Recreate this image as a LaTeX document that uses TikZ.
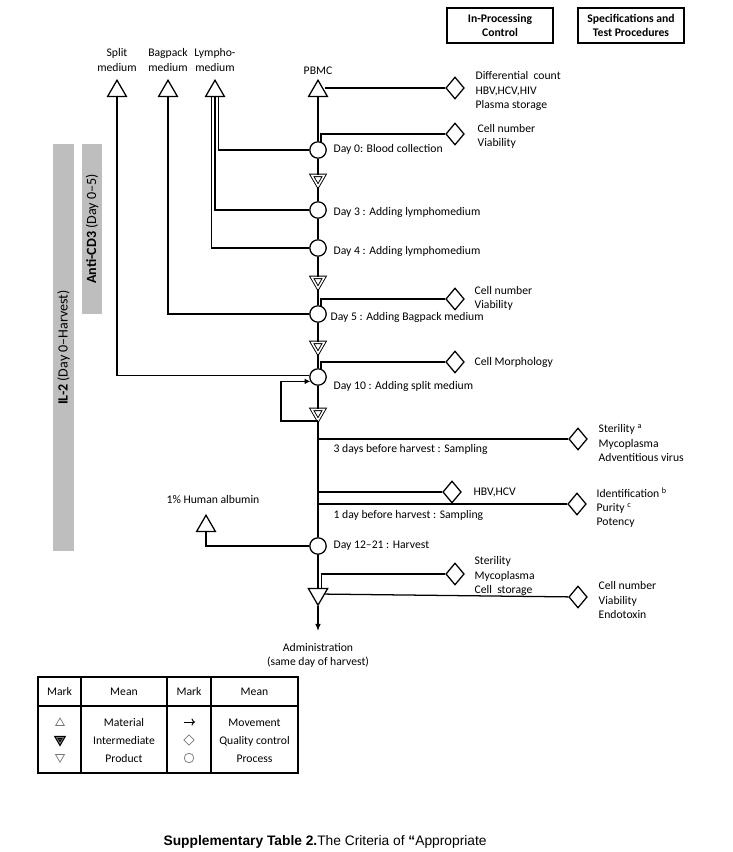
\documentclass[tikz,border=0pt]{standalone}
\usepackage{fontspec}
\setmainfont{Carlito}
\newfontfamily\capfont{Liberation Sans}
\usetikzlibrary{shapes.geometric,arrows.meta}
\definecolor{bargray}{RGB}{190,190,190}
\definecolor{markgray}{RGB}{120,120,120}

\begin{document}
\begin{tikzpicture}[x=0.025cm, y=-0.025cm, line width=0.9pt,
    every node/.style={font=\fontsize{8.3}{10}\selectfont},
    mat/.style={regular polygon, regular polygon sides=3, draw, fill=white, inner sep=0pt, minimum size=0.54cm},
    inter/.style={regular polygon, regular polygon sides=3, shape border rotate=180, draw, fill=white, double, double distance=1.1pt, line width=0.65pt, inner sep=0pt, minimum size=0.36cm},
    prod/.style={regular polygon, regular polygon sides=3, shape border rotate=180, draw, fill=white, inner sep=0pt, minimum size=0.56cm},
    proc/.style={circle, draw, fill=white, inner sep=0pt, minimum size=0.41cm},
    qc/.style={diamond, draw, fill=white, inner sep=0pt, minimum width=0.46cm, minimum height=0.55cm},
    qctext/.style={anchor=west, align=left, inner sep=0pt},
    daytext/.style={anchor=west, inner sep=0pt},
    headbox/.style={draw, line width=1pt, align=center, inner sep=0pt, font=\fontsize{8.3}{10}\selectfont\bfseries, minimum width=2.65cm, minimum height=0.875cm},
    bar/.style={fill=bargray, rotate=90, inner sep=0pt, font=\fontsize{10}{12}\selectfont},
    legtext/.style={inner sep=0pt, text height=8.5pt, text depth=2pt}]
    \useasboundingbox (0,0) rectangle (732,852);

    % Header boxes
    \node[headbox] (ipc) at (500,25.5) {In-Processing\\Control};
    \node[headbox] (spec) at (631,25.5) {Specifications and\\Test Procedures};

    % Gray bars
    \node[bar, minimum width=10.18cm, minimum height=0.53cm] (il2) at (63.5,347.5) {\textbf{IL-2} (Day 0--Harvest)};
    \node[bar, minimum width=4.25cm, minimum height=0.5cm] (cd3) at (92,229) {\textbf{Anti-CD3} (Day 0--5)};

    % Materials
    \node[mat] (split) at (117,91) {};
    \node[mat] (bag) at (168,91) {};
    \node[mat] (lympho) at (215,91) {};
    \node[mat] (pbmc) at (318,91) {};
    \node[mat] (alb) at (206,526) {};
    \node[align=center, inner sep=0pt] (splitlbl) at (117,60) {Split\\medium};
    \node[align=center, inner sep=0pt] (baglbl) at (168,60) {Bagpack\\medium};
    \node[align=center, inner sep=0pt] (lympholbl) at (215,60) {Lympho-\\medium};
    \node[inner sep=0pt] (pbmclbl) at (318,71) {PBMC};
    \node[inner sep=0pt] (alblbl) at (213,499) {1\% Human albumin};

    % Process steps
    \node[proc] (day0) at (318,150) {};
    \node[inter] (int1) at (318,179) {};
    \node[proc] (day3) at (318,210) {};
    \node[proc] (day4) at (318,248) {};
    \node[inter] (int2) at (318,281) {};
    \node[proc] (day5) at (318,314) {};
    \node[inter] (int3) at (318,346) {};
    \node[proc] (day10) at (318,377) {};
    \node[inter] (int4) at (318,413) {};
    \coordinate (s3) at (318,439);
    \coordinate (hb) at (318,492);
    \coordinate (s1) at (318,504);
    \node[proc] (day12) at (318,546) {};
    \node[prod] (prod) at (318,594) {};
    \coordinate (admtip) at (318,631);
    \node[align=center, inner sep=0pt] (admin) at (318,655.5) {Administration\\(same day of harvest)};

    \node[daytext] at (333,149) {Day 0: Blood collection};
    \node[daytext] at (333,212) {Day 3 : Adding lymphomedium};
    \node[daytext] at (333,251) {Day 4 : Adding lymphomedium};
    \node[daytext] at (330,317) {Day 5 : Adding Bagpack medium};
    \node[daytext] at (333,386) {Day 10 : Adding split medium};
    \node[daytext] at (333,449) {3 days before harvest : Sampling};
    \node[daytext] at (333,515) {1 day before harvest : Sampling};
    \node[daytext] at (333,546) {Day 12--21 : Harvest};

    % Quality control
    \node[qc] (qc1) at (455,88) {};
    \node[qc] (qc2) at (455,134) {};
    \node[qc] (qc3) at (455,299) {};
    \node[qc] (qc4) at (455,362) {};
    \node[qc] (qc5) at (578,439) {};
    \node[qc] (qc6) at (452,492) {};
    \node[qc] (qc7) at (577,504) {};
    \node[qc] (qc8) at (455,574) {};
    \node[qc] (qc9) at (578,597) {};
    \node[qctext] at (475,91) {Differential\ \ count\\HBV,HCV,HIV\\Plasma storage};
    \node[qctext] at (477,136.5) {Cell number\\Viability};
    \node[qctext] at (474,298) {Cell number\\Viability};
    \node[qctext] at (474,362) {Cell Morphology};
    \node[qctext] at (598,443) {Sterility~\textsuperscript{a}\\Mycoplasma\\Adventitious virus};
    \node[qctext] at (473,492) {HBV,HCV};
    \node[qctext] at (596,508) {Identification~\textsuperscript{b}\\Purity~\textsuperscript{c}\\Potency};
    \node[qctext] at (474,576) {Sterility\\Mycoplasma\\Cell\ \ storage};
    \node[qctext] at (598,600) {Cell number\\Viability\\Endotoxin};

    % Main flow
    \draw (pbmc) -- (day0) -- (int1) -- (day3) -- (day4) -- (int2) -- (day5) -- (int3) -- (day10) -- (int4) -- (day12) -- (prod);
    \draw[-{Latex[length=5pt,width=4pt]}] (prod) -- (admtip);

    % Material inputs
    \draw (lympho.-60) |- (day0);
    \draw (lympho.south) |- (day3);
    \draw (lympho.-120) |- (day4);
    \draw (bag) |- (day5);
    \draw (split) |- (day10.170);
    \draw (alb) |- (day12);
    \draw[-{Latex[length=4pt,width=4pt]}] (int4.south) -- ++(-37,0) |- (day10.-150);

    % Control branches
    \draw (qc1.west) -- (qc1.west -| pbmc.east);
    \draw (day0.70) |- (qc2.west);
    \draw (day5.70) |- (qc3.west);
    \draw (day10.70) |- (qc4.west);
    \draw (s3) -- (qc5);
    \draw (hb) -- (qc6);
    \draw (s1) -- (qc7);
    \draw (prod.60) |- (qc8.west);
    \draw (prod) -- (qc9);

    % Legend table
    \draw[line width=1.1pt] (38,677) rectangle (298,773);
    \draw[line width=1.1pt] (38,706) -- (298,706);
    \foreach \cx in {81,167,211}
        \draw[line width=1.1pt] (\cx,677) -- (\cx,773);
    \node[legtext] at (59.5,691) {Mark};
    \node[legtext] at (124,691) {Mean};
    \node[legtext] at (189,691) {Mark};
    \node[legtext] at (254.5,691) {Mean};
    \node[legtext] at (124,722) {Material};
    \node[legtext] at (124,740) {Intermediate};
    \node[legtext] at (124,758) {Product};
    \node[legtext] at (254.5,722) {Movement};
    \node[legtext] at (254.5,740) {Quality control};
    \node[legtext] at (254.5,758) {Process};
    \node[regular polygon, regular polygon sides=3, draw=markgray, line width=0.5pt, inner sep=0pt, minimum size=0.25cm] at (60,723) {};
    \node[regular polygon, regular polygon sides=3, shape border rotate=180, draw, double=markgray, double distance=0.6pt, line width=0.8pt, inner sep=0pt, minimum size=0.2cm] at (60,739.5) {};
    \node[regular polygon, regular polygon sides=3, shape border rotate=180, draw=markgray, line width=0.5pt, inner sep=0pt, minimum size=0.26cm] at (60,757) {};
    \draw[line width=0.7pt, -{To[length=2.5pt,width=5pt]}] (184,722) -- (195,722);
    \node[diamond, draw=markgray, line width=0.5pt, inner sep=0pt, minimum size=0.26cm] at (189,740) {};
    \node[circle, draw=markgray, line width=0.5pt, inner sep=0pt, minimum size=0.24cm] at (189,758) {};

    % Caption
    \node[anchor=west, inner sep=0pt, font=\capfont\fontsize{9.8}{12}\selectfont] (caption) at (163,842) {\textbf{Supplementary Table 2.}The Criteria of \textbf{“}Appropriate};
\end{tikzpicture}
\end{document}
